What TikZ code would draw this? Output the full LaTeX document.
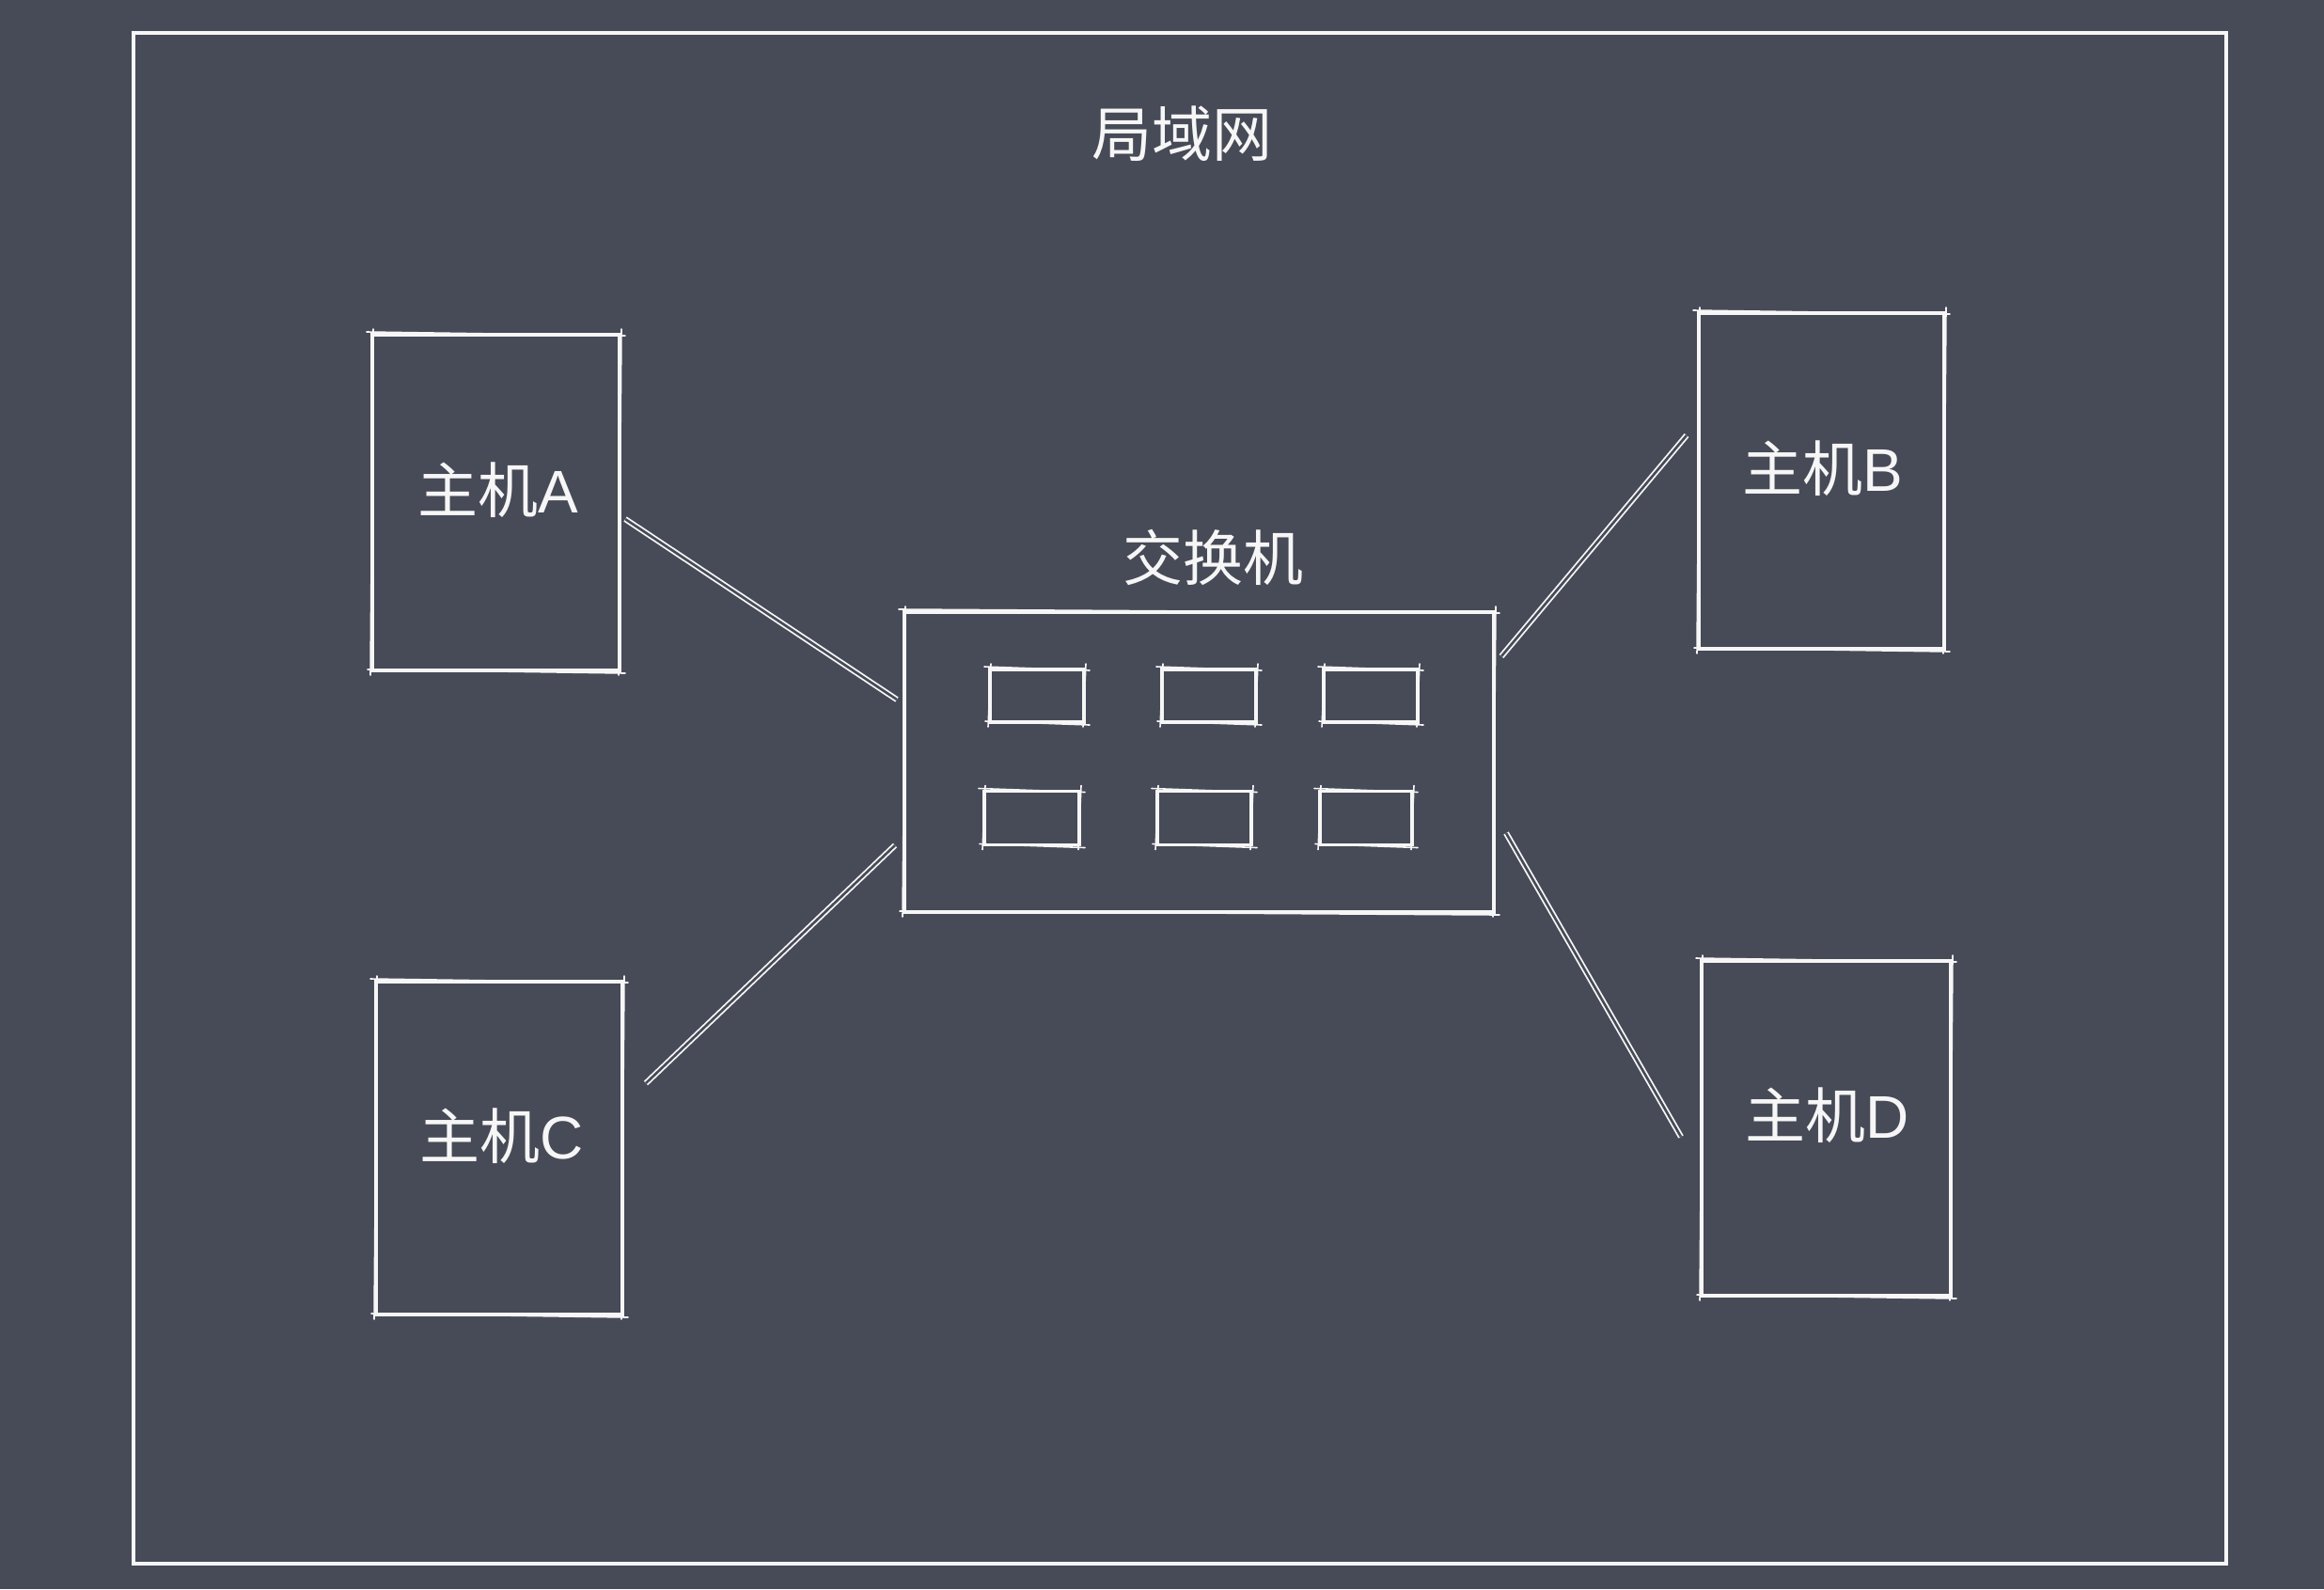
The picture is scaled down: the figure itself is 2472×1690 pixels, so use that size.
\documentclass[tikz,border=0pt]{standalone}
\usepackage{fontspec}
\newfontfamily\cjk{Noto Sans CJK SC}
\newfontfamily\lat{Liberation Sans}
\definecolor{bgc}{HTML}{474A57}
\definecolor{ink}{HTML}{F6F6F6}
\begin{document}
\begin{tikzpicture}[x=1pt,y=-1pt,
  box/.style={draw=ink, line width=3.8pt, rectangle, inner sep=0pt, outer sep=0pt},
  portbox/.style={box, line width=3.4pt},
  lbl/.style={text=ink, font=\cjk\fontsize{64}{70}\selectfont, inner sep=0pt},
  roughline/.style={draw=ink, line width=1.6pt, line cap=round},
  wire/.style={draw=ink, line width=1.8pt, double=bgc, double distance=2.6pt}
]
\newcommand{\roughbox}[1]{%
  \draw[roughline] ([shift={(-6,-3)}]#1.north west) -- ([shift={(6,1)}]#1.north east);
  \draw[roughline] ([shift={(2,-6)}]#1.north east) -- ([shift={(-1,5)}]#1.south east);
  \draw[roughline] ([shift={(6,3)}]#1.south east) -- ([shift={(-5,-1)}]#1.south west);
  \draw[roughline] ([shift={(-2,5)}]#1.south west) -- ([shift={(1,-6)}]#1.north west);
}
\fill[bgc] (0,0) rectangle (2472,1690);
\useasboundingbox (0,0) rectangle (2472,1690);

% outer frame
\node[box, line width=4pt, minimum width=2226pt, minimum height=1628pt] (lan) at (1255,849) {};
\node[lbl] (lantitle) at (1257,142) {局域网};

% hosts
\node[box, minimum width=263pt, minimum height=357pt] (A) at (527.5,534.5) {};
\node[box, minimum width=261pt, minimum height=357pt] (B) at (1937.5,511.5) {};
\node[box, minimum width=262pt, minimum height=354pt] (C) at (531,1221) {};
\node[box, minimum width=265pt, minimum height=356pt] (D) at (1942.5,1200) {};
\roughbox{A}\roughbox{B}\roughbox{C}\roughbox{D}
\node[lbl] (lA) at (530,521) {主机{\lat A}};
\node[lbl] (lB) at (1939,498) {主机{\lat B}};
\node[lbl] (lC) at (534,1208) {主机{\lat C}};
\node[lbl] (lD) at (1944,1186) {主机{\lat D}};

% switch
\node[box, minimum width=627pt, minimum height=319pt] (sw) at (1275.5,810.5) {};
\roughbox{sw}
\node[lbl] (swl) at (1290,593) {交换机};

% ports
\node[portbox, minimum width=100pt, minimum height=56pt] (p1) at (1103,740) {};
\node[portbox, minimum width=100pt, minimum height=56pt] (p2) at (1286,740) {};
\node[portbox, minimum width=100pt, minimum height=56pt] (p3) at (1458,740) {};
\node[portbox, minimum width=101pt, minimum height=57pt] (p4) at (1097.5,870) {};
\node[portbox, minimum width=100pt, minimum height=57pt] (p5) at (1281,870) {};
\node[portbox, minimum width=98pt, minimum height=57pt] (p6) at (1453,870) {};
\foreach \p in {p1,p2,p3,p4,p5,p6} {\roughbox{\p}}

% connector ends
\coordinate (a1) at (665,552);  \coordinate (a2) at (954,744);
\coordinate (b1) at (1597,698); \coordinate (b2) at (1794,463);
\coordinate (c1) at (687,1152); \coordinate (c2) at (952,899);
\coordinate (d1) at (1602,886); \coordinate (d2) at (1788,1209);
\draw[wire] (a1) -- (a2);
\draw[wire] (b1) -- (b2);
\draw[wire] (c1) -- (c2);
\draw[wire] (d1) -- (d2);
\end{tikzpicture}
\end{document}
